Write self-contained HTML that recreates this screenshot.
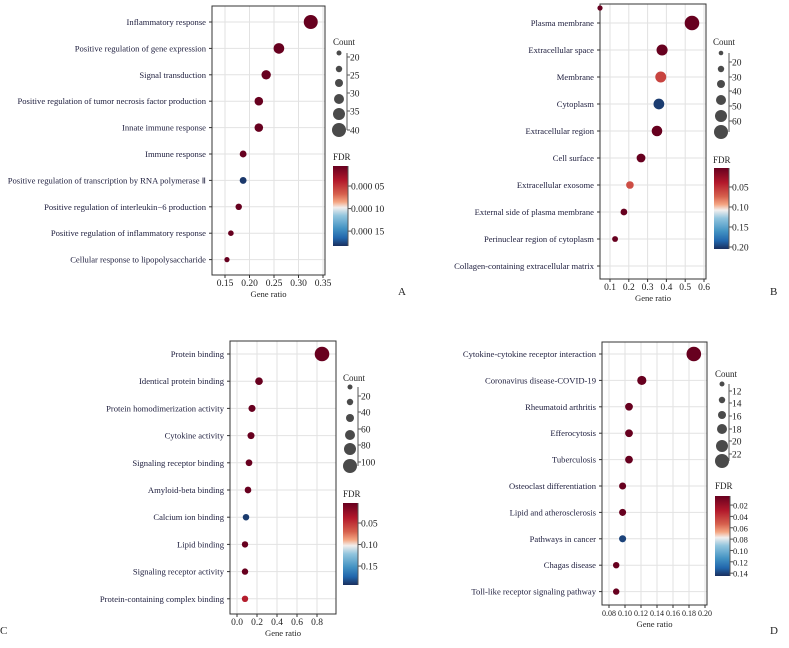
<!DOCTYPE html>
<html><head><meta charset="utf-8">
<style>
html,body{margin:0;padding:0;background:#fff;}
svg{display:block;font-family:"Liberation Serif",serif;}
</style></head>
<body>
<svg id="fig" width="789" height="648" viewBox="0 0 789 648">
<defs>
<linearGradient id="rdbu" x1="0" y1="0" x2="0" y2="1">
<stop offset="0" stop-color="#67001f"/><stop offset="0.18" stop-color="#b2182b"/>
<stop offset="0.35" stop-color="#d6604d"/><stop offset="0.45" stop-color="#f4a582"/>
<stop offset="0.52" stop-color="#f2efee"/><stop offset="0.62" stop-color="#92c5de"/>
<stop offset="0.78" stop-color="#4393c3"/><stop offset="0.9" stop-color="#2166ac"/>
<stop offset="1" stop-color="#1a2f5e"/>
</linearGradient>
</defs>
</svg>
<script>
// ---- Panel A (BP) ----
const catsA=["Inflammatory response","Positive regulation of gene expression","Signal transduction","Positive regulation of tumor necrosis factor production","Innate immune response","Immune response","Positive regulation of transcription by RNA polymerase Ⅱ","Positive regulation of interleukin−6 production","Positive regulation of inflammatory response","Cellular response to lipopolysaccharide"];
const ratioA=[0.325,0.26,0.234,0.219,0.219,0.187,0.187,0.178,0.162,0.154];
const countA=[42,34,31,29,29,25,25,24,22,21];
const fdrA=[0.000002,0.000002,0.000002,0.000002,0.000002,0.000002,0.00018,0.000002,0.000002,0.000002];
const xTicksA=[0.15,0.20,0.25,0.30,0.35];
const xTickLabA=["0.15","0.20","0.25","0.30","0.35"];
const sizeLabA=["20","25","30","35","40"];
const fdrTicksA=[0.00005,0.0001,0.00015];
const fdrLabA=["0.000 05","0.000 10","0.000 15"];
// ---- Panel B (CC) ----
const catsB=["Plasma membrane","Extracellular space","Membrane","Cytoplasm","Extracellular region","Cell surface","Extracellular exosome","External side of plasma membrane","Perinuclear region of cytoplasm","Collagen-containing extracellular matrix"];
const ratioB=[0.536,0.377,0.37,0.36,0.35,0.265,0.206,0.174,0.127,null];
const countB=[65,45,44,43,42,32,25,20,15,10];
const fdrB=[0.002,0.002,0.06,0.2,0.002,0.002,0.065,0.002,0.002,0.002];
const xTicksB=[0.1,0.2,0.3,0.4,0.5,0.6];
const xTickLabB=["0.1","0.2","0.3","0.4","0.5","0.6"];
const sizeLabB=["20","30","40","50","60"];
const fdrTicksB=[0.05,0.10,0.15,0.20];
const fdrLabB=["0.05","0.10","0.15","0.20"];
// ---- Panel C (MF) ----
const catsC=["Protein binding","Identical protein binding","Protein homodimerization activity","Cytokine activity","Signaling receptor binding","Amyloid-beta binding","Calcium ion binding","Lipid binding","Signaling receptor activity","Protein-containing complex binding"];
const ratioC=[0.85,0.22,0.15,0.14,0.12,0.11,0.09,0.08,0.08,0.08];
const countC=[105,25,18,17,14,13,11,10,10,10];
const fdrC=[0.004,0.004,0.004,0.004,0.004,0.004,0.19,0.004,0.004,0.04];
const xTicksC=[0.0,0.2,0.4,0.6,0.8];
const xTickLabC=["0.0","0.2","0.4","0.6","0.8"];
const sizeLabC=["20","40","60","80","100"];
const fdrTicksC=[0.05,0.10,0.15];
const fdrLabC=["0.05","0.10","0.15"];
// ---- Panel D (KEGG) ----
const catsD=["Cytokine-cytokine receptor interaction","Coronavirus disease-COVID-19","Rheumatoid arthritis","Efferocytosis","Tuberculosis","Osteoclast differentiation","Lipid and atherosclerosis","Pathways in cancer","Chagas disease","Toll-like receptor signaling pathway"];
const ratioD=[0.186,0.121,0.105,0.105,0.105,0.097,0.097,0.097,0.089,0.089];
const countD=[23,15,13,13,13,12,12,12,11,11];
const fdrD=[0.004,0.004,0.004,0.004,0.004,0.004,0.004,0.14,0.004,0.004];
const xTicksD=[0.08,0.10,0.12,0.14,0.16,0.18,0.20];
const xTickLabD=["0.08","0.10","0.12","0.14","0.16","0.18","0.20"];
const sizeLabD=["12","14","16","18","20","22"];
const fdrTicksD=[0.02,0.04,0.06,0.08,0.10,0.12,0.14];
const fdrLabD=["0.02","0.04","0.06","0.08","0.10","0.12","0.14"];

const svg=document.getElementById('fig');
const NS="http://www.w3.org/2000/svg";
function mk(tag,attrs,parent){const e=document.createElementNS(NS,tag);for(const k in attrs)e.setAttribute(k,attrs[k]);(parent||svg).appendChild(e);return e;}
function txt(s,attrs,parent){const e=mk('text',attrs,parent);e.textContent=s;return e;}
const stops=[[0,[103,0,31]],[0.18,[178,24,43]],[0.35,[214,96,77]],[0.45,[244,165,130]],[0.52,[242,239,238]],[0.62,[146,197,222]],[0.78,[67,147,195]],[0.9,[33,102,172]],[1,[26,47,94]]];
function cmap(t){t=Math.max(0,Math.min(1,t));for(let i=1;i<stops.length;i++){if(t<=stops[i][0]){const a=stops[i-1],b=stops[i];const f=(t-a[0])/(b[0]-a[0]);const c=a[1].map((v,j)=>Math.round(v+(b[1][j]-v)*f));return `rgb(${c})`;}}return 'rgb(26,47,94)';}

function panel(p){
  const g=mk('g',{});
  
  
  const sx=v=>p.x0+(v-p.d0)*p.k;
  const sy=i=>p.rowTop+i*p.rowStep;
  const cmin=Math.min(...p.count),cmax=Math.max(...p.count);
  const sr=c=>p.rmin+(c-cmin)/(cmax-cmin)*(p.rmax-p.rmin);
  p.xt.forEach(v=>{const l=mk('line',{x1:sx(v),x2:sx(v),y1:p.top,y2:p.bot,stroke:'#e2e2e2','stroke-width':1},g);});
  p.cats.forEach((c,i)=>{const l=mk('line',{x1:p.left,x2:p.right,y1:sy(i),y2:sy(i),stroke:'#e2e2e2','stroke-width':1},g);});
  const box=mk('rect',{x:p.left,y:p.top,width:p.right-p.left,height:p.bot-p.top,fill:'none',stroke:'#333','stroke-width':1},g);
  
  p.cats.forEach((c,i)=>{
    mk('line',{x1:p.left-3,x2:p.left,y1:sy(i),y2:sy(i),stroke:'#333'},g);
    const t=txt(c,{x:p.left-6,y:sy(i)+3,'font-size':8.6,'text-anchor':'end',fill:'#1c1c3c'},g);
    
  });
  p.xt.forEach((v,i)=>{
    mk('line',{x1:sx(v),x2:sx(v),y1:p.bot,y2:p.bot+3,stroke:'#333'},g);
    const t=txt(p.xl[i],{x:sx(v),y:p.bot+11,'font-size':p.xfs||9.5,'text-anchor':'middle',fill:'#222'},g);
    
  });
  const xt=txt('Gene ratio',{x:(p.left+p.right)/2,y:p.bot+22,'font-size':8.6,'text-anchor':'middle',fill:'#222'},g);
  
  const fmin=p.f0,fmax=p.f1;
  p.ratio.forEach((v,i)=>{
    if(v===null)return;
    const c=mk('circle',{cx:sx(v),cy:sy(i),r:sr(p.count[i]),fill:cmap((p.fdr[i]-fmin)/(fmax-fmin))},g);
    
    
  });
  const lt=txt('Count',{x:p.lx,y:p.cTitleY,'font-size':9,fill:'#222'},g);
  
  p.ldotY.forEach((y,i)=>{const c=mk('circle',{cx:p.ldx,cy:y,r:p.lr[i],fill:'#4a4a4a'},g);});
  mk('line',{x1:p.lbx,x2:p.lbx,y1:p.ldotY[0],y2:p.ldotY[p.ldotY.length-1],stroke:'#555'},g);
  p.sl.forEach((s,i)=>{
    const y=p.slY[i];
    mk('line',{x1:p.lbx,x2:p.lbx+3,y1:y,y2:y,stroke:'#555'},g);
    const t=txt(s,{x:p.lbx+3,y:y+3.5,'font-size':9.5,fill:'#222'},g);
    
  });
  const ft=txt('FDR',{x:p.lx,y:p.fTitleY,'font-size':9,fill:'#222'},g);
  
  const cb=mk('rect',{x:p.cbx,y:p.cby0,width:15,height:p.cby1-p.cby0,fill:'url(#rdbu)'},g);
  
  mk('line',{x1:p.cbx+15,x2:p.cbx+15,y1:p.cby0,y2:p.cby1,stroke:'#555'},g);
  const fy=v=>p.cby0+(v-fmin)/(fmax-fmin)*(p.cby1-p.cby0);
  p.ft.forEach((v,i)=>{
    mk('line',{x1:p.cbx+15,x2:p.cbx+18,y1:fy(v),y2:fy(v),stroke:'#555'},g);
    const t=txt(p.fl[i],{x:p.cbx+18,y:fy(v)+3.5,'font-size':p.ffs||9.5,fill:'#222'},g);
    
  });
  const pl=txt(p.letter,{x:p.letX,y:p.letY,'font-size':11,fill:'#222'},g);
  
}

panel({name:'panel-a',letter:'A',letX:398,letY:295,cats:catsA,ratio:ratioA,count:countA,fdr:fdrA,xt:xTicksA,xl:xTickLabA,
 left:212,right:325,top:6,bot:275,x0:225,d0:0.15,k:490,rowTop:22,rowStep:26.4,rmin:2.6,rmax:7,
 lx:333,cTitleY:45,ldx:339,ldotY:[53,69,83,99,114,130],lr:[2.5,3.2,4,5,6,7],lbx:347,sl:sizeLabA,slY:[57,75,93,111,130],
 fTitleY:160,cbx:333,cby0:166,cby1:246,f0:0.0000056,f1:0.000183,ft:fdrTicksA,fl:fdrLabA});
panel({name:'panel-b',letter:'B',letX:770,letY:295,cats:catsB,ratio:ratioB,count:countB,fdr:fdrB,xt:xTicksB,xl:xTickLabB,
 left:600,right:706,top:4,bot:279,x0:610,d0:0.1,k:188,rowTop:23,rowStep:27.0,rmin:2.5,rmax:7.3,
 lx:713,cTitleY:45,ldx:721,ldotY:[53,69,84,100,116,132],lr:[2.3,3.2,4,5,6,7],lbx:729,sl:sizeLabB,slY:[62,77,91,106,121],
 fTitleY:163,cbx:714,cby0:168,cby1:249,f0:0.0025,f1:0.205,ft:fdrTicksB,fl:fdrLabB});
(function(){const c=mk('circle',{cx:600,cy:8,r:2.6,fill:'#67001f'});})();
panel({name:'panel-c',letter:'C',letX:0,letY:634,cats:catsC,ratio:ratioC,count:countC,fdr:fdrC,xt:xTicksC,xl:xTickLabC,
 left:230,right:336,top:341,bot:614,x0:237,d0:0,k:100,rowTop:354,rowStep:27.2,rmin:3.2,rmax:7.3,
 lx:343,cTitleY:381,ldx:350,ldotY:[387,402,418,435,449,466],lr:[2.5,3.2,4,5,6,7],lbx:358,sl:sizeLabC,slY:[396,412,429,445,462],
 fTitleY:497,cbx:343,cby0:503,cby1:585,f0:0.0035,f1:0.194,ft:fdrTicksC,fl:fdrLabC});
panel({name:'panel-d',letter:'D',letX:770,letY:634,cats:catsD,ratio:ratioD,count:countD,fdr:fdrD,xt:xTicksD,xl:xTickLabD,xfs:8,
 left:602,right:707,top:342,bot:605,x0:609,d0:0.08,k:800,rowTop:354,rowStep:26.4,rmin:3.2,rmax:7.3,
 lx:715,cTitleY:377,ldx:722,ldotY:[384,400,415,429,446,461],lr:[2.5,3.2,4,5,6,7],lbx:729,sl:sizeLabD,slY:[391,403,416,429,441,454],
 fTitleY:489,cbx:715,cby0:496,cby1:576,f0:0.004,f1:0.145,ft:fdrTicksD,fl:fdrLabD,ffs:8.5});
</script>
</body></html>
